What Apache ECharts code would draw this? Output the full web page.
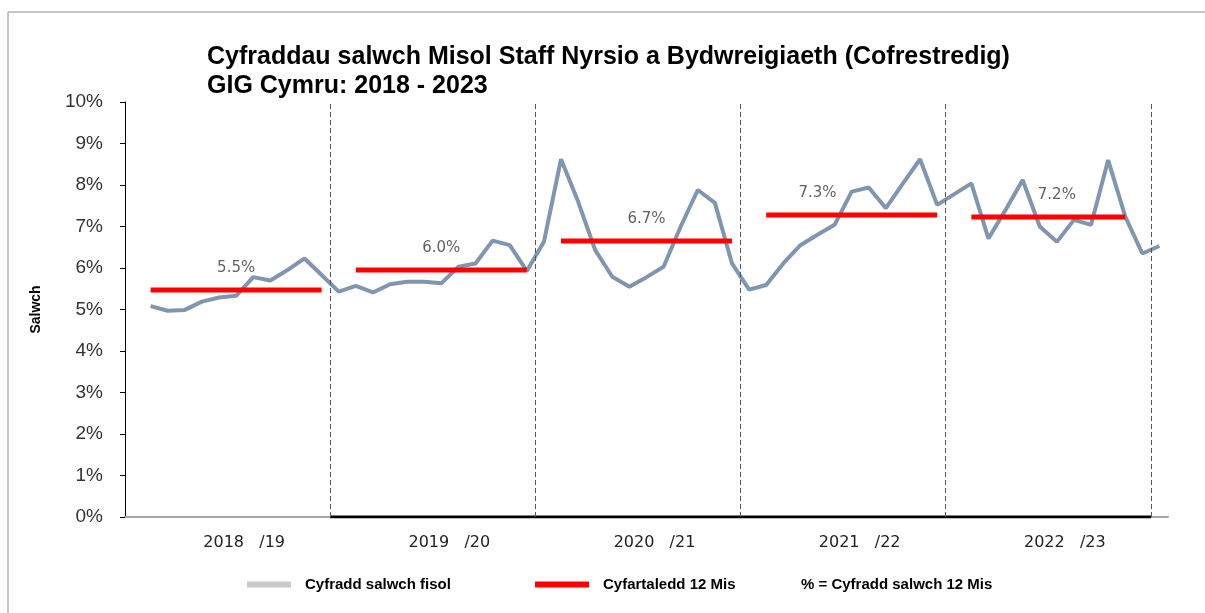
<!DOCTYPE html>
<html>
<head>
<meta charset="utf-8">
<title>Cyfraddau salwch Misol</title>
<script src="https://cdn.jsdelivr.net/npm/echarts@6/dist/echarts.min.js"></script>
<style>
  html, body { margin: 0; padding: 0; background: #fff; }
  #chart { width: 1205px; height: 613px; }
</style>
</head>
<body>
<div id="chart"></div>
<script>
// misoedd Ebrill 2018 - Ebrill 2023
var months = [
  'Apr 2018','May 2018','Jun 2018','Jul 2018','Aug 2018','Sep 2018','Oct 2018','Nov 2018','Dec 2018','Jan 2019','Feb 2019','Mar 2019',
  'Apr 2019','May 2019','Jun 2019','Jul 2019','Aug 2019','Sep 2019','Oct 2019','Nov 2019','Dec 2019','Jan 2020','Feb 2020','Mar 2020',
  'Apr 2020','May 2020','Jun 2020','Jul 2020','Aug 2020','Sep 2020','Oct 2020','Nov 2020','Dec 2020','Jan 2021','Feb 2021','Mar 2021',
  'Apr 2021','May 2021','Jun 2021','Jul 2021','Aug 2021','Sep 2021','Oct 2021','Nov 2021','Dec 2021','Jan 2022','Feb 2022','Mar 2022',
  'Apr 2022','May 2022','Jun 2022','Jul 2022','Aug 2022','Sep 2022','Oct 2022','Nov 2022','Dec 2022','Jan 2023','Feb 2023','Mar 2023',
  'Apr 2023'
];

// cyfradd salwch fisol (%)
var monthly = [
  null, 5.08, 4.97, 4.99, 5.19, 5.29, 5.33, 5.78, 5.70, 5.95, 6.23, 5.83,
  5.43, 5.57, 5.41, 5.61, 5.67, 5.67, 5.63, 6.03, 6.11, 6.66, 6.55, 5.93,
  6.63, 8.62, 7.60, 6.43, 5.79, 5.55, 5.78, 6.03, 7.00, 7.88, 7.57, 6.11,
  5.48, 5.59, 6.11, 6.55, 6.80, 7.04, 7.84, 7.94, 7.44, 8.04, 8.62, 7.52,
  7.78, 8.04, 6.71, 7.40, 8.12, 7.00, 6.63, 7.16, 7.04, 8.60, 7.24, 6.35,
  6.53
];

// cyfartaledd 12 mis
var avgValues = [5.47, 5.95, 6.65, 7.28, 7.23];
var avgStart  = [1, 13, 25, 37, 49];
var avgEnd    = [11, 23, 35, 47, 58];
var avgLabels = ['5.5%', '6.0%', '6.7%', '7.3%', '7.2%'];
var labelAt   = [6, 18, 30, 40, 54];

var yearLabels = ['2018   /19', '2019   /20', '2020   /21', '2021   /22', '2022   /23'];
var yearBreaks = [11.5, 23.5, 35.5, 47.5, 59.5];

var avgLine = months.map(function (m, i) {
  for (var k = 0; k < avgValues.length; k++) {
    if (i >= avgStart[k] && i <= avgEnd[k]) return avgValues[k];
  }
  return null;
});

var legendText = { fontFamily: 'Liberation Sans', fontSize: 15, fontWeight: 'bold', color: '#000', padding: [0, 0, 0, 9] };

var chart = echarts.init(document.getElementById('chart'));

chart.setOption({
  animation: false,
  backgroundColor: '#fff',
  title: {
    text: 'Cyfraddau salwch Misol Staff Nyrsio a Bydwreigiaeth (Cofrestredig)\nGIG Cymru: 2018 - 2023',
    left: 202,
    top: 38,
    textStyle: {
      fontFamily: 'Liberation Sans',
      fontSize: 25,
      fontWeight: 'bold',
      color: '#000',
      lineHeight: 29
    }
  },
  legend: [{
    left: 247,
    top: 577,
    padding: 0,
    itemWidth: 44,
    itemHeight: 6,
    selectedMode: false,
    data: [{ name: 'Cyfradd salwch fisol', icon: 'rect', itemStyle: { color: '#c9c9c9' } }],
    textStyle: legendText
  }, {
    left: 535,
    top: 577,
    padding: 0,
    itemWidth: 54,
    itemHeight: 6,
    selectedMode: false,
    data: [{ name: 'Cyfartaledd 12 Mis', icon: 'rect', itemStyle: { color: '#ff0000' } }],
    textStyle: legendText
  }],
  graphic: [
    { type: 'line', shape: { x1: 8, y1: 12, x2: 1205, y2: 12 }, style: { stroke: '#b3b3b3', lineWidth: 1.5 } },
    { type: 'line', shape: { x1: 8, y1: 12, x2: 8, y2: 613 }, style: { stroke: '#b3b3b3', lineWidth: 1.5 } },
    {
      type: 'text', left: 801, top: 577,
      style: { text: '% = Cyfradd salwch 12 Mis', font: 'bold 15px "Liberation Sans"', fill: '#000' }
    }
  ],
  grid: { left: 125, right: 37, top: 102, bottom: 96 },
  xAxis: [{
    type: 'category',
    data: months,
    boundaryGap: true,
    axisLine: { lineStyle: { color: '#a6a6a6', width: 2 } },
    axisTick: { show: false },
    axisLabel: {
      interval: function (index) { return index % 12 === 6 && index < 60; },
      formatter: function (value, index) { return yearLabels[Math.floor(index / 12)]; },
      margin: 18,
      padding: [0, 0, 0, 16],
      fontFamily: 'DejaVu Sans',
      fontSize: 16,
      color: '#222'
    },
    splitLine: { show: false }
  }, {
    type: 'value',
    min: -0.5,
    max: 60.5,
    show: false
  }],
  yAxis: {
    type: 'value',
    min: 0,
    max: 10,
    interval: 1,
    name: 'Salwch',
    nameLocation: 'middle',
    nameGap: 82,
    nameTextStyle: { fontFamily: 'Liberation Sans', fontSize: 14, fontWeight: 'bold', color: '#000' },
    axisLine: { show: true, onZero: false, lineStyle: { color: '#000', width: 1 } },
    axisTick: { show: true, length: 5, lineStyle: { color: '#000' } },
    axisLabel: {
      formatter: '{value}%',
      margin: 22,
      fontFamily: 'Liberation Sans',
      fontSize: 19,
      color: '#333'
    },
    splitLine: { show: false }
  },
  series: [{
    name: 'axis segment',
    type: 'line',
    xAxisIndex: 1,
    data: [[yearBreaks[0], 0], [yearBreaks[yearBreaks.length - 1], 0]],
    symbol: 'none',
    silent: true,
    lineStyle: { color: '#000', width: 3 },
    markLine: {
      silent: true,
      symbol: ['none', 'none'],
      label: { show: false },
      lineStyle: { color: '#555', type: [5, 3], width: 1 },
      data: yearBreaks.map(function (b) { return { xAxis: b }; })
    },
    z: 1
  }, {
    name: 'Cyfradd salwch fisol',
    type: 'line',
    data: monthly,
    symbol: 'none',
    lineStyle: { color: '#8095b0', width: 4 },
    itemStyle: { color: '#8095b0' },
    z: 2
  }, {
    name: 'Cyfartaledd 12 Mis',
    type: 'line',
    data: avgLine,
    connectNulls: false,
    symbol: 'none',
    lineStyle: { color: '#ff0000', width: 5 },
    itemStyle: { color: '#ff0000' },
    z: 3
  }, {
    name: 'labels',
    type: 'scatter',
    symbolSize: 0,
    silent: true,
    data: labelAt.map(function (x, k) { return [x, avgValues[k]]; }),
    label: {
      show: true,
      position: 'top',
      distance: 14,
      formatter: function (p) { return avgLabels[p.dataIndex]; },
      fontFamily: 'DejaVu Sans',
      fontSize: 15,
      color: '#3a3a3a'
    },
    z: 4
  }]
});
</script>
</body>
</html>
